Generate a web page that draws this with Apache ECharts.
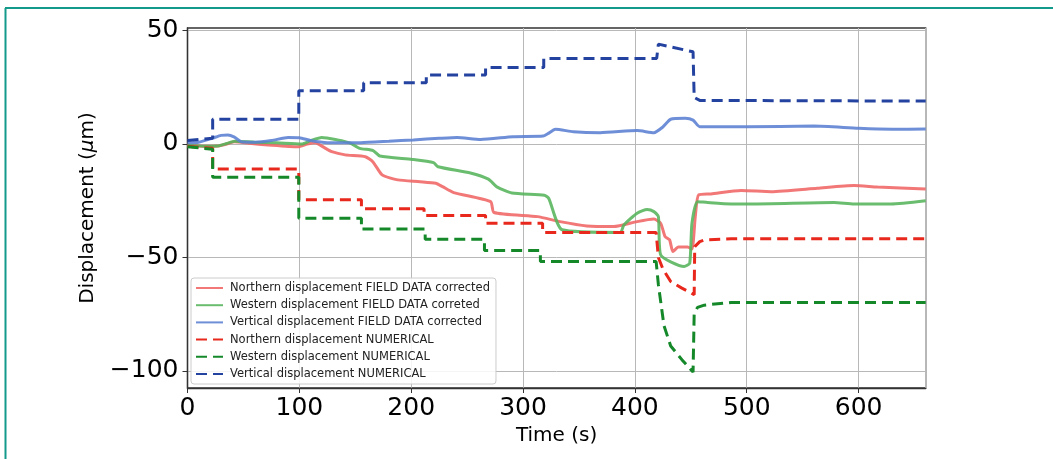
<!DOCTYPE html>
<html>
<head>
<meta charset="utf-8">
<script src="https://cdn.jsdelivr.net/npm/echarts@6/dist/echarts.min.js"></script>
<style>
html,body{margin:0;padding:0;background:#fff;}
#chart{width:1053px;height:459px;}
</style>
</head>
<body>
<div id="chart"></div>
<script>
// ---- Data (time in s, displacement in µm) ----
const seriesNames = [
  'Northern displacement FIELD DATA corrected',
  'Western displacement FIELD DATA correted',
  'Vertical displacement FIELD DATA corrected',
  'Northern displacement NUMERICAL',
  'Western displacement NUMERICAL',
  'Vertical displacement NUMERICAL'
];
const xTicks = [0, 100, 200, 300, 400, 500, 600];
const yTicks = [50, 0, -50, -100];

const northField = [[0,-0.4],[15,-1],[27,-0.9],[35,0],[42,1],[55,0.3],[72,-0.4],[99,-1.2],[107,0],[114,0.6],[122,-1.5],[129,-3.4],[141,-4.8],[159,-5.6],[166,-8],[174,-13.6],[188,-15.8],[208,-16.6],[222,-17.3],[228,-18.8],[238,-21.4],[271,-25.4],[274,-30.2],[313,-32],[333,-34.2],[357,-36.1],[381,-36.4],[402,-34.2],[417,-33.1],[423,-34.9],[427,-40.8],[431,-42.2],[434,-47.4],[439,-45.4],[447,-45.4],[451,-46.3],[454,-32],[457,-22.4],[468,-22],[495,-20.5],[522,-21],[563,-19.5],[596,-18.3],[617,-19],[660,-19.8]];
const westField = [[0,-0.5],[15,-1],[27,-0.9],[35,0.2],[42,1.2],[60,0.8],[80,0.5],[102,0],[110,1.5],[120,2.9],[134,1.8],[145,0.5],[154,-1.9],[166,-2.9],[172,-5.3],[201,-6.8],[220,-8.2],[224,-10],[253,-12.8],[269,-15.5],[277,-19],[290,-21.6],[319,-22.6],[323,-24],[335,-37.8],[387,-39],[390,-35.8],[402,-30.5],[411,-28.9],[417,-29.8],[421,-32],[423,-48.8],[444,-54],[449,-52.5],[451,-35],[456,-25.4],[465,-25.8],[486,-26.4],[504,-26.4],[578,-25.8],[596,-26.4],[629,-26.4],[660,-25]];
const vertField = [[0,0.6],[10,0.8],[22,2.5],[30,3.8],[36,4],[42,3],[48,1],[60,0.8],[75,1.5],[90,2.9],[100,2.8],[110,1.5],[125,0.6],[155,0.6],[180,1.2],[202,1.8],[225,2.5],[241,2.9],[262,2],[291,3.2],[318,3.5],[322,4.5],[329,6.5],[345,5.4],[369,5],[402,5.9],[417,5],[425,7.5],[432,10.9],[445,11.3],[452,10.5],[458,7.6],[500,7.6],[560,7.9],[600,6.9],[630,6.5],[660,6.6]];
const northNum = [[0,-1],[22.5,-1.9],[22.5,-11],[99.5,-11],[99.5,-24.6],[155.5,-24.6],[155.5,-28.5],[211.5,-28.5],[211.5,-31.5],[266.5,-31.5],[266.5,-34.9],[317.5,-34.9],[317.5,-39],[419,-39],[421,-50],[425,-55],[432,-60.6],[442,-63.5],[453,-66.4],[453.5,-45.2],[458,-43],[462,-42.3],[486,-41.8],[660,-41.8]];
const westNum = [[0,-1.2],[22.5,-2.3],[22.5,-14.7],[99.5,-14.7],[99.5,-32.7],[155.5,-32.7],[155.5,-37.5],[212.5,-37.5],[212.5,-42],[265.5,-42],[265.5,-46.9],[315.5,-46.9],[315.5,-51.8],[419,-51.8],[421,-62],[426,-80],[432,-89],[442,-95],[452,-100.5],[453,-75],[456,-72],[462,-71],[486,-69.8],[660,-69.8]];
const vertNum = [[0,1.5],[22.5,2.5],[22.5,10.9],[99.5,10.9],[99.5,23.5],[157.5,23.5],[157.5,27],[213.5,27],[213.5,30.4],[266.5,30.4],[266.5,33.7],[318.5,33.7],[318.5,37.7],[419.5,37.7],[421,44],[452,40.6],[453,20.5],[458,19.2],[660,18.9]];

const dataSets = [northField, westField, vertField, northNum, westNum, vertNum];
const colors = ['#f06464', '#55b45a', '#5a7fd2', '#e8281c', '#15892a', '#2442a0'];
const dashed = [false, false, false, true, true, true];

const chart = echarts.init(document.getElementById('chart'), null, {renderer: 'canvas'});
const FONT = 'DejaVu Sans';

const series = dataSets.map((d, i) => ({
  name: seriesNames[i],
  type: 'line',
  data: d,
  symbol: 'none',
  smooth: dashed[i] ? false : 0.2,
  animation: false,
  lineStyle: {
    color: colors[i],
    width: 3,
    type: dashed[i] ? [11, 6] : 'solid',
    opacity: dashed[i] ? 1 : 0.88
  },
  itemStyle: {color: colors[i]},
  z: 3 + i
}));

chart.setOption({
  animation: false,
  backgroundColor: '#ffffff',
  textStyle: {fontFamily: FONT},
  grid: {
    left: 187.5, right: 127.3, top: 28, bottom: 71,
    show: true, borderColor: '#333', borderWidth: 1.3, backgroundColor: '#fff',
    containLabel: false
  },
  xAxis: {
    type: 'value', min: 0, max: 660, interval: 100,
    name: 'Time (s)', nameLocation: 'middle', nameGap: 37,
    nameTextStyle: {fontFamily: FONT, fontSize: 20, color: '#000'},
    axisLine: {show: true, onZero: false, lineStyle: {color: '#333', width: 1.3}},
    axisTick: {show: true, inside: false, length: 5, lineStyle: {color: '#333'}},
    axisLabel: {
      fontFamily: FONT, fontSize: 25, color: '#000', margin: 8,
      showMaxLabel: false,
      formatter: v => (xTicks.indexOf(v) >= 0 ? String(v) : '')
    },
    splitLine: {show: true, lineStyle: {color: '#b8b8b8', width: 1}}
  },
  yAxis: {
    type: 'value', min: -107.5, max: 51.1,
    name: '{a|Displacement (}{b|μ}{a|m)}', nameLocation: 'middle', nameGap: 90, nameRotate: 90,
    nameTextStyle: {
      fontFamily: FONT, fontSize: 20, color: '#000',
      rich: {
        a: {fontFamily: FONT, fontSize: 20, color: '#000'},
        b: {fontFamily: FONT, fontSize: 20, color: '#000', fontStyle: 'italic'}
      }
    },
    axisLine: {show: true, onZero: false, lineStyle: {color: '#333', width: 1.3}},
    axisTick: {show: true, inside: false, length: 5, lineStyle: {color: '#333'}, customValues: yTicks},
    axisLabel: {
      fontFamily: FONT, fontSize: 25, color: '#000', margin: 9,
      customValues: yTicks,
      formatter: v => (v < 0 ? '\u2212' + Math.abs(v) : String(v))
    },
    splitLine: {show: true, lineStyle: {color: '#b8b8b8', width: 1}}
  },
  legend: {
    orient: 'vertical', left: 191, top: 278,
    itemWidth: 27, itemHeight: 12, itemGap: 5.2,
    padding: [4, 6, 4, 4],
    itemStyle: {opacity: 0},
    backgroundColor: 'rgba(255,255,255,0.85)',
    borderColor: '#cccccc', borderWidth: 1, borderRadius: 3,
    textStyle: {fontFamily: FONT, fontSize: 11.5, color: '#222', padding: [0, 0, 0, 2]},
    data: seriesNames.map(n => ({name: n}))
  },
  graphic: [
    {type: 'line', shape: {x1: 5, y1: 8, x2: 1053, y2: 8}, style: {stroke: '#149a8b', lineWidth: 2}, silent: true},
    {type: 'line', shape: {x1: 5.5, y1: 8, x2: 5.5, y2: 459}, style: {stroke: '#149a8b', lineWidth: 2}, silent: true}
  ],
  series: series
});
</script>
</body>
</html>
